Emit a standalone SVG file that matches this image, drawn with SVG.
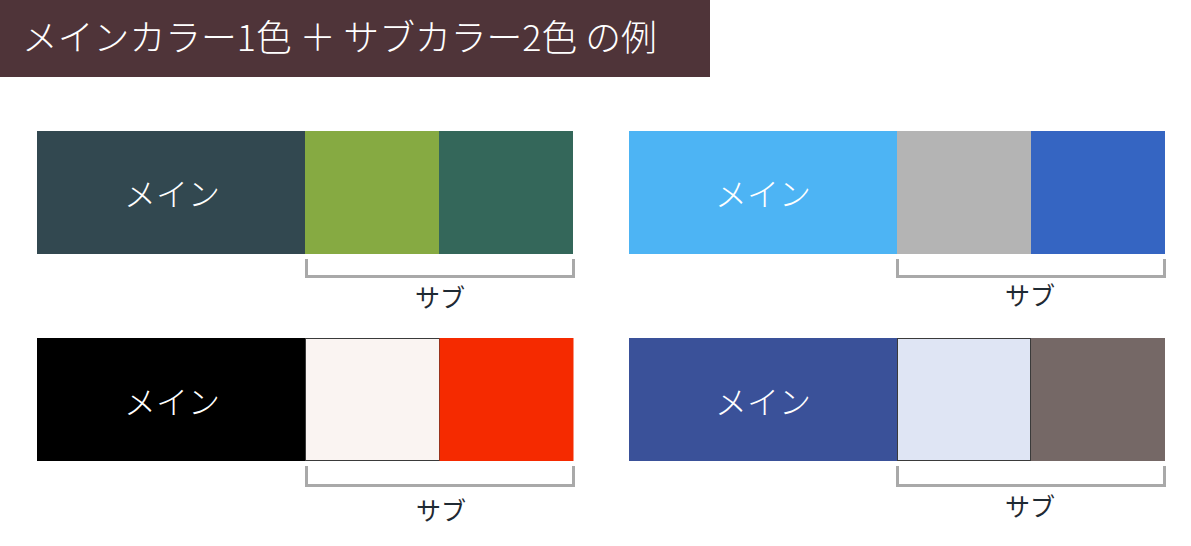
<svg xmlns="http://www.w3.org/2000/svg" width="1191" height="546" viewBox="0 0 1191 546">
<style>
.main{font-family:"Noto Sans CJK JP","Noto Sans",sans-serif;font-size:32px;font-weight:300;fill:#ffffff;text-anchor:middle}
.sub{font-family:"Noto Sans CJK JP","Noto Sans",sans-serif;font-size:25px;font-weight:400;fill:#1f2a33;text-anchor:middle}
.title{font-family:"Noto Sans CJK JP","Noto Sans",sans-serif;font-size:35.8px;font-weight:300;fill:#ffffff}
.br{fill:none;stroke:#a9a9a9;stroke-width:3}
.edge{stroke:#3a3a3a;stroke-width:1}
</style>
<rect x="0" y="0" width="1191" height="546" fill="#ffffff"/>
<g id="title">
<rect x="0" y="0" width="710" height="77" fill="#4f3439"/>
<text class="title" x="22" y="51">メインカラー1色 ＋ サブカラー2色 の例</text>
</g>
<g id="set1">
<rect x="37" y="131" width="268" height="123" fill="#324850"/>
<rect x="305" y="131" width="134" height="123" fill="#86aa42"/>
<rect x="439" y="131" width="134" height="123" fill="#34675a"/>
<text class="main" x="172" y="206">メイン</text>
</g>
<g id="set2">
<rect x="629" y="131" width="268" height="123" fill="#4db4f4"/>
<rect x="897" y="131" width="134" height="123" fill="#b4b4b4"/>
<rect x="1031" y="131" width="134" height="123" fill="#3565c2"/>
<text class="main" x="763" y="206">メイン</text>
</g>
<g id="set3">
<rect x="37" y="338" width="268" height="123" fill="#000000"/>
<rect x="305.5" y="338.5" width="134" height="122" fill="#faf4f2" class="edge"/>
<rect x="439.5" y="338" width="134" height="123" fill="#f52a00"/>
<text class="main" x="172" y="414">メイン</text>
</g>
<g id="set4">
<rect x="629" y="338" width="268" height="123" fill="#3a5199"/>
<rect x="897.5" y="338.5" width="133" height="122" fill="#dfe5f4" class="edge"/>
<rect x="1031" y="338" width="134" height="123" fill="#756866"/>
<text class="main" x="763" y="414">メイン</text>
</g>
<g id="connectors">
<polyline class="br" points="306.5,259 306.5,276.5 573.5,276.5 573.5,259"/>
<polyline class="br" points="897.5,259 897.5,276.5 1164.5,276.5 1164.5,259"/>
<polyline class="br" points="306.5,466 306.5,485.5 573.5,485.5 573.5,466"/>
<polyline class="br" points="897.5,466 897.5,485.5 1164.5,485.5 1164.5,466"/>
</g>
<g id="labels">
<text class="sub" x="440" y="307">サブ</text>
<text class="sub" x="1030" y="305">サブ</text>
<text class="sub" x="441" y="520">サブ</text>
<text class="sub" x="1030" y="516">サブ</text>
</g>
</svg>
